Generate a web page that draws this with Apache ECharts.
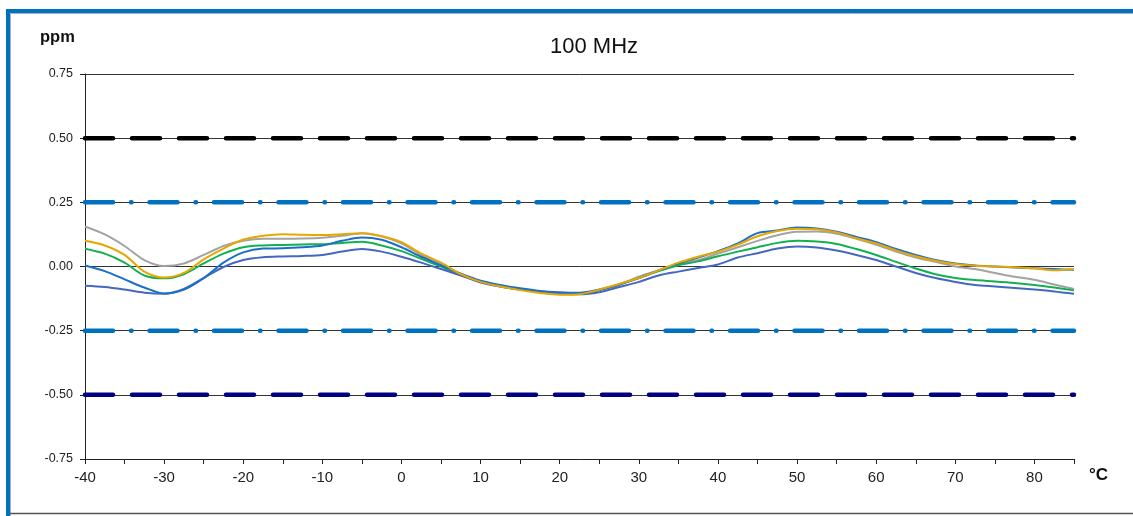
<!DOCTYPE html>
<html>
<head>
<meta charset="utf-8">
<script src="https://cdn.jsdelivr.net/npm/echarts@6/dist/echarts.min.js"></script>
<style>
html,body{margin:0;padding:0;background:#fff;}
#chart{width:1133px;height:516px;}
</style>
</head>
<body>
<div id="chart"></div>
<script>
// Temperature grid (°C)
var temps = [-40,-37.5,-35,-32.5,-30,-27.5,-25,-22.5,-20,-17.5,-15,-12.5,-10,-7.5,-5,-2.5,0,2.5,5,7.5,10,12.5,15,17.5,20,22.5,25,27.5,30,32.5,35,37.5,40,42.5,45,47.5,50,52.5,55,57.5,60,62.5,65,67.5,70,72.5,75,77.5,80,82.5,85];

var grayVals = [0.156,0.125,0.08,0.025,0.002,0.012,0.045,0.08,0.1,0.108,0.108,0.109,0.112,0.12,0.13,0.118,0.09,0.045,0.012,-0.03,-0.058,-0.075,-0.088,-0.098,-0.103,-0.105,-0.092,-0.072,-0.04,-0.015,0.01,0.025,0.05,0.075,0.1,0.122,0.135,0.136,0.128,0.108,0.085,0.058,0.035,0.018,0.0,-0.01,-0.025,-0.04,-0.052,-0.07,-0.088];

var orangeVals = [0.1,0.082,0.045,-0.02,-0.043,-0.025,0.028,0.07,0.105,0.12,0.126,0.124,0.123,0.126,0.13,0.118,0.095,0.05,0.015,-0.03,-0.06,-0.078,-0.092,-0.103,-0.11,-0.108,-0.09,-0.068,-0.045,-0.015,0.015,0.038,0.058,0.085,0.118,0.138,0.147,0.145,0.133,0.11,0.09,0.063,0.04,0.022,0.01,0.003,0.0,-0.003,-0.007,-0.015,-0.01];

var greenVals = [0.069,0.05,0.015,-0.035,-0.046,-0.03,0.012,0.05,0.075,0.082,0.084,0.086,0.087,0.092,0.096,0.082,0.06,0.03,0.0,-0.032,-0.06,-0.078,-0.09,-0.1,-0.107,-0.107,-0.092,-0.07,-0.045,-0.018,0.005,0.02,0.04,0.058,0.075,0.092,0.1,0.097,0.088,0.068,0.045,0.018,-0.008,-0.03,-0.045,-0.053,-0.058,-0.064,-0.072,-0.082,-0.093];

var blueVals = [0.004,-0.018,-0.05,-0.082,-0.105,-0.09,-0.045,0.015,0.055,0.07,0.071,0.075,0.082,0.1,0.113,0.104,0.075,0.038,0.005,-0.028,-0.055,-0.072,-0.085,-0.095,-0.1,-0.102,-0.09,-0.07,-0.045,-0.015,0.012,0.035,0.06,0.09,0.13,0.14,0.152,0.148,0.135,0.115,0.095,0.068,0.045,0.025,0.012,0.004,0.0,-0.004,-0.007,-0.01,-0.013];

var indigoVals = [-0.075,-0.08,-0.09,-0.102,-0.106,-0.087,-0.045,-0.002,0.025,0.036,0.039,0.041,0.045,0.058,0.068,0.058,0.038,0.015,-0.01,-0.035,-0.062,-0.078,-0.09,-0.1,-0.106,-0.108,-0.1,-0.08,-0.06,-0.035,-0.02,-0.006,0.008,0.035,0.052,0.07,0.078,0.074,0.062,0.045,0.025,0.0,-0.025,-0.045,-0.06,-0.072,-0.078,-0.084,-0.09,-0.097,-0.106];

// Limit lines (ppm)
var limitOuter = [0.5, -0.5];
var limitInner = [0.25, -0.25];
var xRange = [-40, 85];
var yTicks = [-0.75, 0.75, 0.25];

function zip(vals){ return temps.map(function(t,i){ return [t, vals[i]]; }); }
function hline(v){ return [[xRange[0], v], [xRange[1], v]]; }

var curveDefs = [
  {name:'gray', vals:grayVals, color:'#A3A3A3'},
  {name:'green', vals:greenVals, color:'#12B050'},
  {name:'indigo', vals:indigoVals, color:'#4468C0'},
  {name:'blue', vals:blueVals, color:'#1C6FC8'},
  {name:'orange', vals:orangeVals, color:'#E8A600'}
];

var series = [];
var limitDefs = [
  {v:limitOuter[0], color:'#000000', dash:[28,19]},
  {v:limitInner[0], color:'#0070C0', dash:[28,18,0.5,18]},
  {v:limitInner[1], color:'#0070C0', dash:[28,18,0.5,18]},
  {v:limitOuter[1], color:'#000080', dash:[28,19]}
];
limitDefs.forEach(function(d){
  series.push({
    type:'line', data:hline(d.v), symbol:'none', silent:true, z:3,
    lineStyle:{color:d.color, width:4.5, type:d.dash, cap:'round'}
  });
});
curveDefs.forEach(function(c){
  series.push({
    type:'line', name:c.name, data:zip(c.vals), symbol:'none', smooth:0.3, z:4,
    lineStyle:{color:c.color, width:2}
  });
});

var chart = echarts.init(document.getElementById('chart'), null, {renderer:'canvas'});
chart.setOption({
  animation:false,
  backgroundColor:'#ffffff',
  title:{
    text:'100 MHz', left:589, top:31, textAlign:'center',
    textStyle:{fontFamily:'Liberation Sans', fontSize:22, fontWeight:'normal', color:'#111'}
  },
  grid:{left:85, top:74, width:989, height:385, containLabel:false},
  xAxis:{
    type:'value', min:xRange[0], max:xRange[1], interval:10,
    axisLine:{show:true, onZero:false, lineStyle:{color:'#222', width:1}},
    axisTick:{show:true, inside:false, length:5, lineStyle:{color:'#222'}},
    minorTick:{show:true, splitNumber:2, length:5, lineStyle:{color:'#222'}},
    splitLine:{show:false},
    axisLabel:{
      margin:11, fontFamily:'Liberation Sans', fontSize:15, color:'#222',
      showMaxLabel:false,
      formatter:function(v){ return v > 80 ? '' : String(v); }
    }
  },
  yAxis:{
    type:'value', min:yTicks[0], max:yTicks[1], interval:yTicks[2],
    axisLine:{show:true, onZero:false, lineStyle:{color:'#222', width:1}},
    axisTick:{show:true, inside:false, length:5, lineStyle:{color:'#222'}},
    splitLine:{show:true, lineStyle:{color:'#333', width:1}},
    axisLabel:{
      margin:12, fontFamily:'Liberation Sans', fontSize:12.5, color:'#222',
      formatter:function(v){ return v.toFixed(2); }
    }
  },
  graphic:[
    {type:'rect', silent:true, z:-1, shape:{x:8, y:11, width:1140, height:530}, style:{fill:'none', stroke:'#0070C0', lineWidth:4}},
    {type:'polyline', silent:true, shape:{points:[[10.5,520],[10.5,13.5],[1133,13.5]]}, style:{fill:'none', stroke:'#B0B0B0', lineWidth:1}},
    {type:'line', silent:true, shape:{x1:10, y1:513.5, x2:1133, y2:513.5}, style:{stroke:'#555', lineWidth:1.5}},
    {type:'text', left:40, top:29, style:{text:'ppm', fontFamily:'Liberation Sans', fontSize:16.5, fontWeight:'bold', fill:'#111'}},
    {type:'text', left:1089, top:467, style:{text:'°C', fontFamily:'Liberation Sans', fontSize:17, fontWeight:'bold', fill:'#111'}}
  ],
  series:series
});
</script>
</body>
</html>
